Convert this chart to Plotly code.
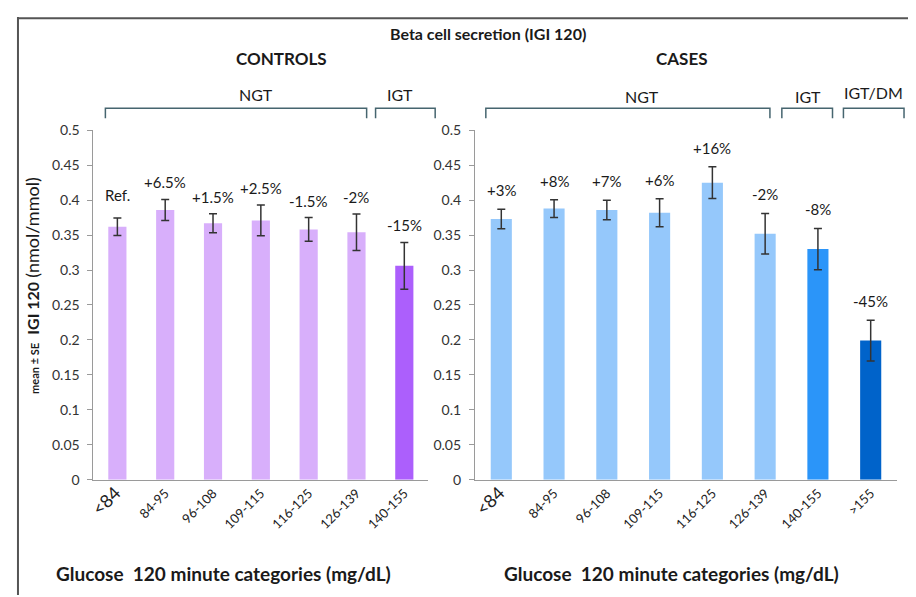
import plotly.graph_objects as go

# Empirical page mapping of the viewer: figure starts 8px from the left and
# 16px from the top; the capture is squeezed vertically by about 0.973.
OFF_X, OFF_Y = 8, 16
S_Y = 0.973
W, H = 900, 595

# ---------------- data ----------------
ctrl_cats = ["<84", "84-95", "96-108", "109-115", "116-125", "126-139", "140-155"]
ctrl_vals = [0.362, 0.386, 0.367, 0.371, 0.358, 0.354, 0.306]
ctrl_err = [0.0125, 0.015, 0.0135, 0.022, 0.017, 0.026, 0.0335]
ctrl_labels = ["Ref.", "+6.5%", "+1.5%", "+2.5%", "-1.5%", "-2%", "-15%"]

case_cats = ["<84", "84-95", "96-108", "109-115", "116-125", "126-139", "140-155", ">155"]
case_vals = [0.373, 0.388, 0.386, 0.382, 0.425, 0.352, 0.330, 0.199]
case_err = [0.014, 0.0127, 0.014, 0.020, 0.0227, 0.029, 0.0295, 0.029]
case_labels = ["+3%", "+8%", "+7%", "+6%", "+16%", "-2%", "-8%", "-45%"]

y_ticks = [0, 0.05, 0.1, 0.15, 0.2, 0.25, 0.3, 0.35, 0.4, 0.45, 0.5]
y_ticktext = ["0", "0.05", "0.1", "0.15", "0.2", "0.25", "0.3", "0.35", "0.4", "0.45", "0.5"]

ctrl_colors = ["#D8AFFB"] * 6 + ["#AC5FFC"]
case_colors = ["#95C8FB"] * 6 + ["#2B95F9", "#0063CA"]

FONT = "Lato"
TXT = "#1a1a1a"


def px(x):
    return (x - OFF_X) / W


def py(y):
    return 1 - (y / S_Y - OFF_Y) / H


def tick_html(c):
    s = c.replace("<", "&lt;").replace(">", "&gt;")
    if c == "<84":
        return f"<span style='font-size:18px'>{s}</span>"
    return s


fig = go.Figure()

fig.add_trace(go.Bar(
    x=list(range(len(ctrl_cats))), y=ctrl_vals, width=0.38,
    marker=dict(color=ctrl_colors, line=dict(width=0)),
    error_y=dict(type="data", array=ctrl_err, visible=True, color="#333333", thickness=1.5, width=4),
    xaxis="x", yaxis="y", showlegend=False,
))
fig.add_trace(go.Bar(
    x=list(range(len(case_cats))), y=case_vals, width=0.40,
    marker=dict(color=case_colors, line=dict(width=0)),
    error_y=dict(type="data", array=case_err, visible=True, color="#333333", thickness=1.5, width=4),
    xaxis="x2", yaxis="y2", showlegend=False,
))

annotations = []
for i, (v, e, t) in enumerate(zip(ctrl_vals, ctrl_err, ctrl_labels)):
    annotations.append(dict(x=i, y=v + e, xref="x", yref="y", text=t, showarrow=False,
                            xanchor="center", yanchor="bottom", yshift=6 if i else 12,
                            font=dict(family=FONT, size=15, color=TXT)))
for i, (v, e, t) in enumerate(zip(case_vals, case_err, case_labels)):
    annotations.append(dict(x=i, y=v + e, xref="x2", yref="y2", text=t, showarrow=False,
                            xanchor="center", yanchor="bottom", yshift=8,
                            font=dict(family=FONT, size=15, color=TXT)))


def pann(x, y, text, size, **kw):
    d = dict(x=px(x), y=py(y), xref="paper", yref="paper", text=text, showarrow=False,
             xanchor="center", yanchor="middle", font=dict(family=FONT, size=size, color=TXT))
    d.update(kw)
    return d


annotations += [
    pann(485, 32, "<b>Beta cell secretion (IGI 120)</b>", 16),
    pann(277, 57, "<b>CONTROLS</b>", 17),
    pann(680, 57, "<b>CASES</b>", 17),
    pann(252, 93, "NGT", 16),
    pann(397, 93, "IGT", 16),
    pann(640, 95, "NGT", 16),
    pann(807, 95, "IGT", 16),
    pann(873, 91, "IGT/DM", 16),
    pann(219, 573, "<b>Glucose  120 minute categories (mg/dL)</b>", 19),
    pann(670, 573, "<b>Glucose  120 minute categories (mg/dL)</b>", 19),
    pann(26, 284, "<span style='font-size:11px'><b>mean ± SE</b></span>  <b>IGI 120</b> "
                  "<span style='font-size:18px'>(nmol/mmol)</span>", 16, textangle=-90),
]

# brackets
shapes = []
BR = "#46656f"
for x0, x1 in [(100, 363), (372, 432), (483, 769), (781, 832), (843, 904)]:
    path = f"M {px(x0)},{py(117)} L {px(x0)},{py(107)} L {px(x1)},{py(107)} L {px(x1)},{py(117)}"
    shapes.append(dict(type="path", path=path, xref="paper", yref="paper",
                       line=dict(color=BR, width=1.5)))

# frame
shapes += [
    dict(type="line", xref="paper", yref="paper", x0=px(12), x1=px(916), y0=0.998, y1=0.998,
         line=dict(color="#555555", width=2)),
    dict(type="line", xref="paper", yref="paper", x0=px(12), x1=px(12), y0=1, y1=0,
         line=dict(color="#555555", width=2)),
    dict(type="line", xref="paper", yref="paper", x0=px(912), x1=px(912), y0=1, y1=0,
         line=dict(color="#cccccc", width=1)),
]

yax = dict(range=[0, 0.5], tickvals=y_ticks, ticktext=y_ticktext, showgrid=False, zeroline=False,
           showline=True, linecolor="#9a9a9a", linewidth=1, ticks="outside", ticklen=5,
           tickcolor="#9a9a9a", tickfont=dict(family=FONT, size=14, color="#333333"),
           ticklabelstandoff=5,
           domain=[py(479), py(129)], fixedrange=True)

xax_common = dict(showgrid=False, zeroline=False, showline=True, linecolor="#9a9a9a", linewidth=1,
                  ticks="", tickangle=-45, tickfont=dict(family=FONT, size=13, color="#222222"),
                  fixedrange=True)

fig.update_layout(
    width=W, height=H,
    margin=dict(l=0, r=0, t=0, b=0),
    paper_bgcolor="white", plot_bgcolor="white",
    font=dict(family=FONT, color=TXT),
    xaxis=dict(domain=[px(88), px(425)], range=[-0.5, len(ctrl_cats) - 0.5],
               tickvals=list(range(len(ctrl_cats))), ticktext=[tick_html(c) for c in ctrl_cats],
               anchor="y", **xax_common),
    yaxis=dict(anchor="x", **yax),
    xaxis2=dict(domain=[px(472), px(897)], range=[-0.5, len(case_cats) - 0.5],
                tickvals=list(range(len(case_cats))), ticktext=[tick_html(c) for c in case_cats],
                anchor="y2", **xax_common),
    yaxis2=dict(anchor="x2", **yax),
    annotations=annotations,
    shapes=shapes,
    bargap=0.6,
)

fig.write_html("out.html")
